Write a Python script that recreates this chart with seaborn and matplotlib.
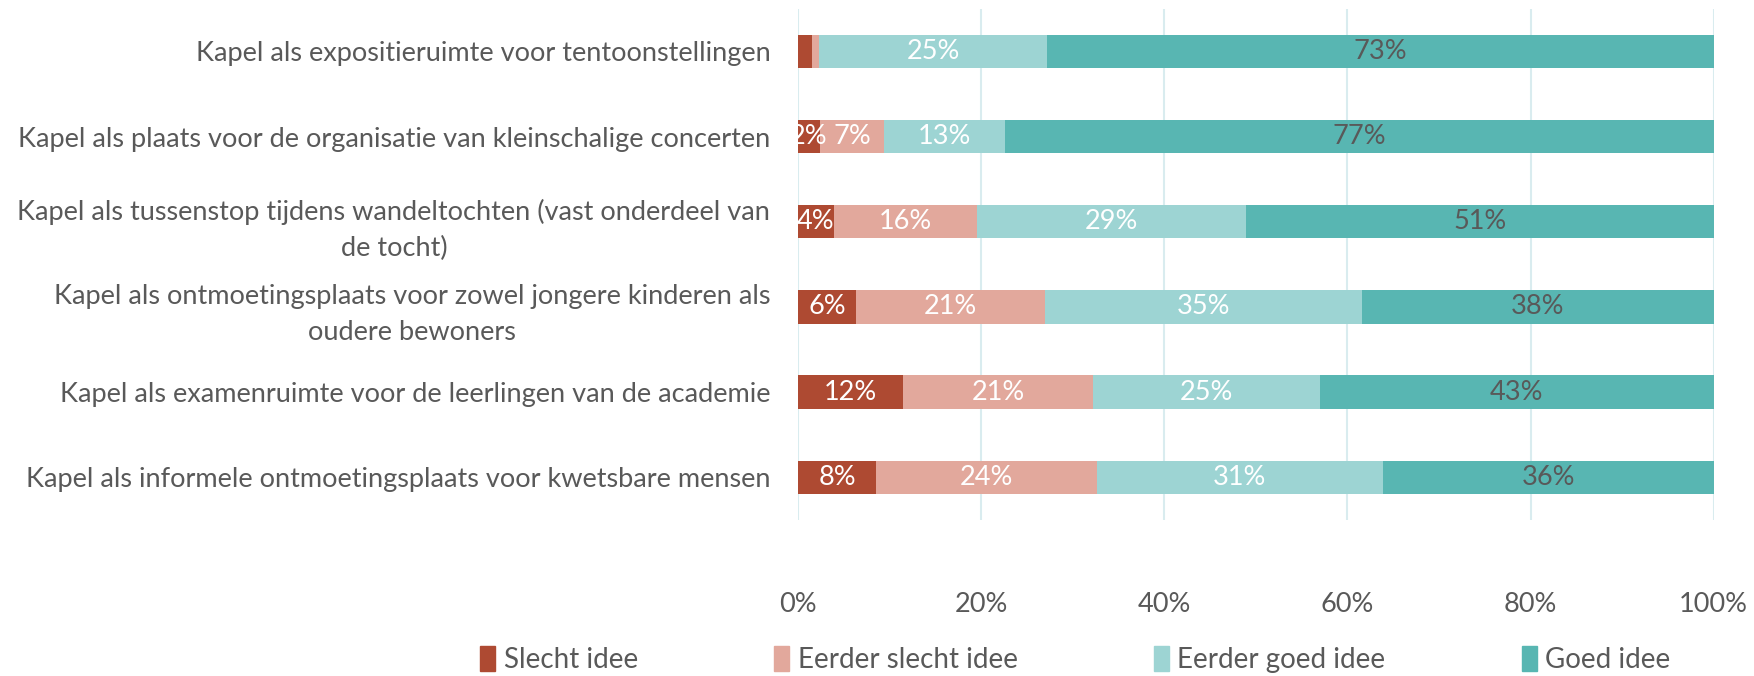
import seaborn as sns
import matplotlib.pyplot as plt
import pandas as pd
from matplotlib.patches import Patch

categories = [
    'Kapel als expositieruimte voor tentoonstellingen',
    'Kapel als plaats voor de organisatie van kleinschalige concerten',
    'Kapel als tussenstop tijdens wandeltochten (vast onderdeel van\nde tocht)',
    'Kapel als ontmoetingsplaats voor zowel jongere kinderen als\noudere bewoners',
    'Kapel als examenruimte voor de leerlingen van de academie',
    'Kapel als informele ontmoetingsplaats voor kwetsbare mensen',
]
series = ['Slecht idee', 'Eerder slecht idee', 'Eerder goed idee', 'Goed idee']
slecht = [1.5, 2.4, 3.9, 6.3, 11.5, 8.5]
eerder_slecht = [0.8, 7.0, 15.6, 20.7, 20.7, 24.1]
eerder_goed = [24.9, 13.2, 29.4, 34.6, 24.8, 31.3]
goed = [72.8, 77.4, 51.1, 38.4, 43.0, 36.1]
xticks = [0, 20, 40, 60, 80, 100]

colors = ['#AE4A32', '#E2A89C', '#9DD4D3', '#58B6B2']
label_colors = ['white', 'white', 'white', '#595959']
text_gray = '#595959'

sns.set_style('white')
plt.rcParams['font.family'] = ['Lato', 'DejaVu Sans']

df = pd.DataFrame({'cat': categories, series[0]: slecht, series[1]: eerder_slecht,
                   series[2]: eerder_goed, series[3]: goed})

fig = plt.figure(figsize=(17.54, 6.76), dpi=100)
ax = fig.add_axes([0.455, 0.231, 0.522, 0.756])

left = [0.0] * len(categories)
for s, c, lc in zip(series, colors, label_colors):
    vals = df[s].tolist()
    sns.barplot(x=[l + v for l, v in zip(left, vals)], y=df['cat'], color=c,
                orient='h', width=0.39, ax=ax, saturation=1)
    for i, (l, v) in enumerate(zip(left, vals)):
        if v >= 2:
            ax.text(l + v / 2, i, f'{round(v)}%', ha='center', va='center',
                    color=lc, fontsize=19.5, zorder=10)
    left = [l + v for l, v in zip(left, vals)]

# cumulative bars: earlier series must sit on top
for k, cont in enumerate(ax.containers):
    for p in cont:
        p.set_zorder(5 - k)
        p.set_edgecolor('none')

ax.set_xlim(0, 100)
ax.set_ylim(5.5, -0.5)
ax.set_xticks(xticks)
ax.set_xticklabels([f'{t}%' for t in xticks])
ax.set_xlabel('')
ax.set_ylabel('')
ax.grid(axis='x', color='#D9ECEF', linewidth=1.5, zorder=0)
for sp in ax.spines.values():
    sp.set_visible(False)
ax.tick_params(axis='both', length=0, colors=text_gray, labelsize=19.5)
ax.tick_params(axis='x', pad=52)
ax.tick_params(axis='y', pad=20)
for t in ax.get_yticklabels():
    t.set_multialignment('center')
    t.set_linespacing(1.55)

handles = [Patch(color=c, label=s) for s, c in zip(series, colors)]
fig.legend(handles=handles, loc='lower center', bbox_to_anchor=(0.613, -0.012),
           borderaxespad=0, ncol=4, frameon=False, fontsize=20, labelcolor=text_gray,
           handlelength=0.55, handleheight=1.0, handletextpad=0.3, columnspacing=4.9)

fig.savefig('out.png', dpi=100)
